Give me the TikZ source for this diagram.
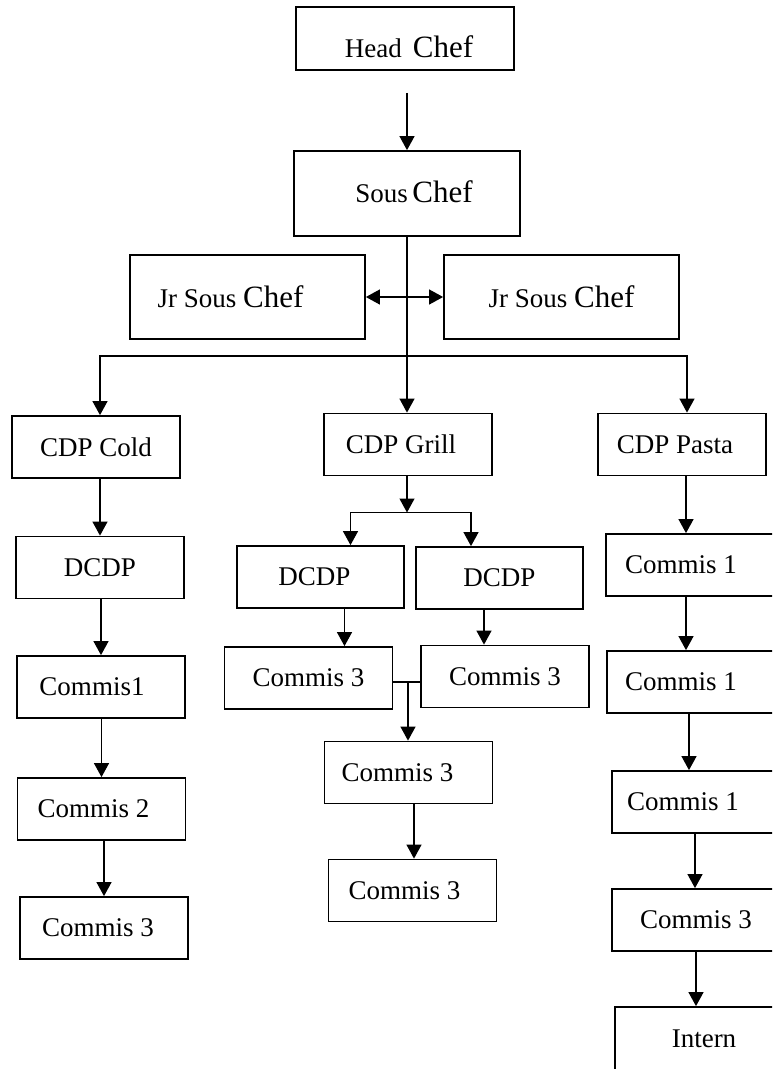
\documentclass[tikz,border=0pt]{standalone}
\usepackage{fontspec}
\setmainfont{Liberation Serif}
\usetikzlibrary{arrows.meta}
\newcommand{\bigchef}{{\fontsize{31}{34}\selectfont Chef}}
\newcommand{\nudge}[3]{\hspace*{#1}\raisebox{#2}[\height][\depth]{#3}\hspace*{-#1}}
\tikzset{
  post/.style={draw, line width=1.8pt, minimum width=168pt, minimum height=62pt,
    inner sep=0pt, font=\fontsize{27}{30}\selectfont},
  link/.style={line width=1.2pt},
  arr/.style={link, ->},
  >={Triangle[length=14pt,width=15pt]}
}
\begin{document}
\begin{tikzpicture}[x=1pt,y=-1pt]
	\clip (0,0) rectangle (772,1069);
	% top of the kitchen
	\node[post, minimum width=218pt, minimum height=63pt] (head) at (405,38.5) {\nudge{4pt}{-8pt}{Head\hspace{11pt}\bigchef}};
	\node[post, minimum width=226pt, minimum height=85pt] (sous) at (407,193.5) {\nudge{7pt}{2pt}{Sous\,\bigchef}};
	\node[post, minimum width=235pt, minimum height=84pt] (jrl) at (247.5,297) {\nudge{-17pt}{0pt}{Jr Sous \bigchef}};
	\node[post, minimum width=235pt, minimum height=84pt] (jrr) at (561.5,297) {Jr Sous \bigchef};
	\node[post] (cold) at (96,447) {CDP Cold};
	\node[post] (grill) at (408,444.5) {\nudge{-7pt}{0pt}{CDP Grill}};
	\node[post] (pasta) at (682,444.5) {\nudge{-7pt}{0pt}{CDP Pasta}};
	% cold section
	\node[post] (dcdpc) at (100,567.5) {DCDP};
	\node[post] (c1a) at (101,687) {\nudge{-9pt}{0pt}{Commis1}};
	\node[post] (c2) at (101.5,809) {\nudge{-8pt}{0pt}{Commis 2}};
	\node[post] (c3a) at (104,928) {\nudge{-6pt}{0pt}{Commis 3}};
	% grill section
	\node[post, minimum width=167pt] (dcdpg1) at (320.5,577) {\nudge{-6pt}{0pt}{DCDP}};
	\node[post, minimum width=167pt] (dcdpg2) at (499.5,578) {DCDP};
	\node[post] (c3g1) at (308.5,678) {Commis 3};
	\node[post] (c3g2) at (505,676.5) {Commis 3};
	\node[post] (c3g3) at (408.5,772.5) {\nudge{-11pt}{0pt}{Commis 3}};
	\node[post] (c3g4) at (412.5,890.5) {\nudge{-8pt}{0pt}{Commis 3}};
	% pasta section
	\node[post] (c1p1) at (690,565) {\nudge{-9pt}{0pt}{Commis 1}};
	\node[post] (c1p2) at (691,682) {\nudge{-10pt}{0pt}{Commis 1}};
	\node[post] (c1p3) at (696,802) {\nudge{-13pt}{0pt}{Commis 1}};
	\node[post] (c3p) at (696,920) {Commis 3};
	\node[post, minimum height=63pt] (intern) at (699,1038.5) {\nudge{5pt}{0pt}{Intern}};
	% links
	\draw[arr, shorten <=22pt] (sous.north |- head.south) -- (sous.north);
	\draw[arr] (sous.south) -- (sous.south |- grill.north);
	\draw[link, <->] (jrl.east) -- (jrr.west);
	\coordinate (bus) at (407,356);
	\draw[arr] (bus) -| ([xshift=4pt]cold.north);
	\draw[arr] (bus) -| ([xshift=5pt]pasta.north);
	\draw[arr] (dcdpc.north |- cold.south) -- (dcdpc.north);
	\draw[arr] (c1a.north |- dcdpc.south) -- (c1a.north);
	\draw[arr] (c2.north |- c1a.south) -- (c2.north);
	\draw[arr] (c3a.north |- c2.south) -- (c3a.north);
	\coordinate (gbar) at (407,512.5);
	\draw[arr] (grill.south -| gbar) -- (gbar);
	\draw[arr] (gbar) -| ([xshift=30pt]dcdpg1.north);
	\draw[arr] (gbar) -| ([xshift=-28.5pt]dcdpg2.north);
	\draw[arr] ([xshift=24pt]dcdpg1.south) -- ([xshift=24pt]dcdpg1.south |- c3g1.north);
	\draw[arr] ([xshift=-15.5pt]dcdpg2.south) -- ([xshift=-15.5pt]dcdpg2.south |- c3g2.north);
	\coordinate (gmrg) at (408,682);
	\draw[link] (c3g1.east |- gmrg) -- (c3g2.west |- gmrg);
	\draw[arr] (gmrg) -- (gmrg |- c3g3.north);
	\draw[arr] ([xshift=5.5pt]c3g3.south) -- ([xshift=5.5pt]c3g3.south |- c3g4.north);
	\draw[arr] ([xshift=4pt]pasta.south) -- ([xshift=4pt]pasta.south |- c1p1.north);
	\draw[arr] ([xshift=-4pt]c1p1.south) -- ([xshift=-4pt]c1p1.south |- c1p2.north);
	\draw[arr] ([xshift=-2pt]c1p2.south) -- ([xshift=-2pt]c1p2.south |- c1p3.north);
	\draw[arr] ([xshift=-1pt]c1p3.south) -- ([xshift=-1pt]c1p3.south |- c3p.north);
	\draw[arr] (c3p.south) -- (c3p.south |- intern.north);
\end{tikzpicture}
\end{document}
